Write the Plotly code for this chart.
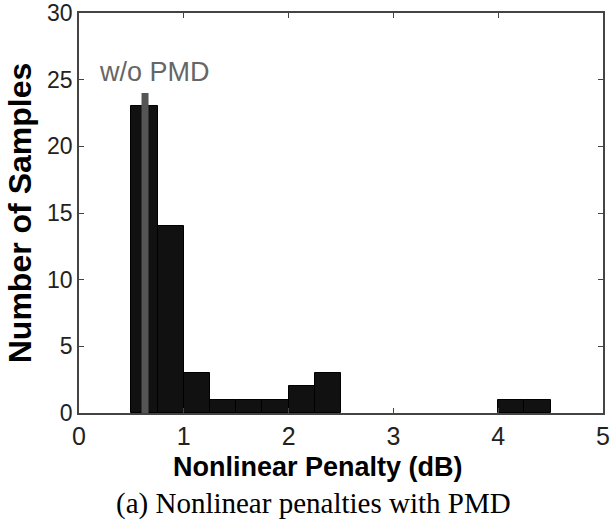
import plotly.graph_objects as go

# Data
bin_centers = [0.625, 0.875, 1.125, 1.375, 1.625, 1.875, 2.125, 2.375, 4.125, 4.375]
counts = [23, 14, 3, 1, 1, 1, 2, 3, 1, 1]
bin_width = 0.25
wo_pmd_x = [0.63, 0.63]
wo_pmd_y = [0, 24]
wo_pmd_label = "w/o PMD"
x_ticks = [0, 1, 2, 3, 4, 5]
y_ticks = [0, 5, 10, 15, 20, 25, 30]

fig = go.Figure()
fig.add_trace(go.Bar(
    x=bin_centers, y=counts, width=bin_width,
    marker=dict(color="#111111", line=dict(color="#000000", width=1)),
    showlegend=False,
))
fig.add_trace(go.Scatter(
    x=wo_pmd_x, y=wo_pmd_y, mode="lines",
    line=dict(color="#555555", width=7), showlegend=False,
))
fig.add_annotation(
    x=0.72, y=25.6, text=wo_pmd_label, showarrow=False,
    font=dict(family="Liberation Sans, Arial", size=27, color="#666666"),
)

axis_common = dict(
    showline=True, linecolor="#444444", linewidth=1.5, mirror="ticks",
    ticks="inside", ticklen=5, tickcolor="#444444", showgrid=False, zeroline=False,
    automargin=False, ticklabeloverflow="allow",
)
fig.update_xaxes(range=[0, 5], tickvals=x_ticks, **axis_common,
                 tickfont=dict(family="Liberation Sans, Arial", size=25, color="#222222"))
fig.update_yaxes(range=[0, 30], tickvals=y_ticks, **axis_common,
                 tickfont=dict(family="Liberation Sans, Arial", size=23, color="#222222"),
                 title=dict(text="<b>Number of Samples</b>",
                            font=dict(family="Liberation Sans, Arial", size=32, color="#000"),
                            standoff=6))
fig.add_annotation(
    xref="paper", yref="paper", x=0.456, y=-0.135, yanchor="middle", xanchor="center",
    text="<b>Nonlinear Penalty (dB)</b>", showarrow=False,
    font=dict(family="Liberation Sans, Arial", size=27, color="#000"),
)
fig.add_annotation(
    xref="paper", yref="paper", x=0.4475, y=-0.225, yanchor="middle", xanchor="center",
    text="(a) Nonlinear penalties with PMD", showarrow=False,
    font=dict(family="Liberation Serif, serif", size=29, color="#000"),
)
fig.update_layout(
    width=612, height=525,
    margin=dict(l=79, r=9, t=13, b=112),
    plot_bgcolor="white", paper_bgcolor="white",
    bargap=0,
)
# Remove the default 8px page margin so the figure fills the 612x525 window.
fig.write_html("out.html", config={"displayModeBar": False},
               post_script="document.body.style.margin='0px';")
